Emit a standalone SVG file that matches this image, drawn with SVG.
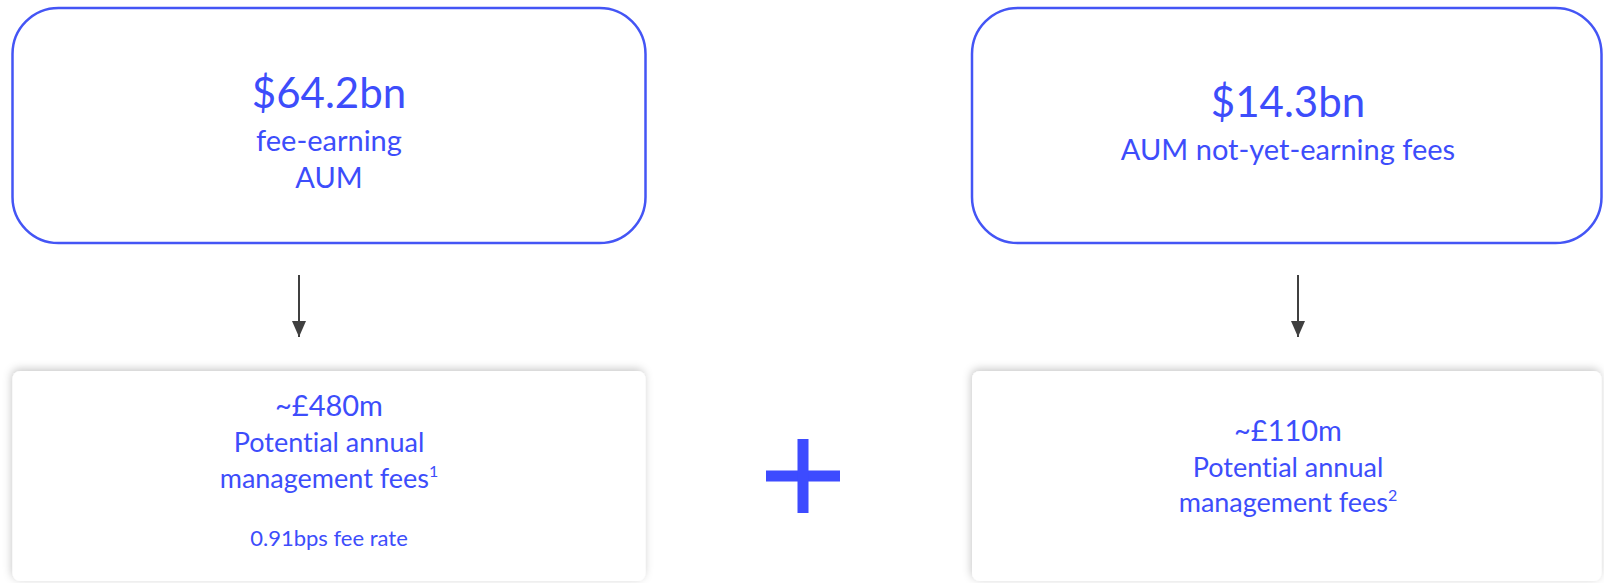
<svg xmlns="http://www.w3.org/2000/svg" width="1604" height="583" viewBox="0 0 1604 583">
<style>
text{font-family:Lato,"Open Sans","Noto Sans",sans-serif;fill:#3D4DFB;text-anchor:middle;font-variant-ligatures:none}
.big{font-size:42px}
.mid{font-size:29px}
.val{font-size:29px}
.sub{font-size:27px}
.sm{font-size:22px}
.sup{font-size:16px}
.top{fill:#fff;stroke:#4455F5;stroke-width:2.5}
.bot{fill:#fff}
.conn{stroke:#404040;stroke-width:2;fill:none}
</style>
<defs>
<filter id="sh" x="-5%" y="-10%" width="110%" height="120%">
<feDropShadow dx="-1" dy="-2" stdDeviation="4" flood-color="#000" flood-opacity="0.22"/>
</filter>
<marker id="ah" viewBox="0 0 16 14" refX="16" refY="7" markerWidth="16" markerHeight="14" markerUnits="userSpaceOnUse" orient="auto">
<path d="M0,0 L16,7 L0,14 Z" fill="#404040"/>
</marker>
</defs>
<g id="node-fee-earning">
<rect class="top" x="12.5" y="8" width="633" height="235" rx="46"/>
<text class="big" x="329" y="108">$64.2bn</text>
<text class="mid" x="329" y="151">fee-earning</text>
<text class="mid" x="329" y="188">AUM</text>
</g>
<g id="node-not-yet">
<rect class="top" x="972" y="8" width="629.5" height="235" rx="46"/>
<text class="big" x="1288" y="117">$14.3bn</text>
<text class="mid" x="1288" y="160">AUM not-yet-earning fees</text>
</g>
<g id="node-fees-480" filter="url(#sh)">
<rect class="bot" x="12.5" y="371" width="633" height="210" rx="8"/>
</g>
<g id="node-fees-480-text">
<text class="val" x="329" y="416">~£480m</text>
<text class="sub" x="329" y="452">Potential annual</text>
<text class="sub" x="329" y="488">management fees<tspan class="sup" dy="-11">1</tspan></text>
<text class="sm" x="329" y="546">0.91bps fee rate</text>
</g>
<g id="node-fees-110" filter="url(#sh)">
<rect class="bot" x="972" y="371" width="629.5" height="210" rx="8"/>
</g>
<g id="node-fees-110-text">
<text class="val" x="1288" y="441">~£110m</text>
<text class="sub" x="1288" y="477">Potential annual</text>
<text class="sub" x="1288" y="512">management fees<tspan class="sup" dy="-11">2</tspan></text>
</g>
<g id="plus">
<rect x="766" y="470.5" width="74" height="11" fill="#3D4BFF"/>
<rect x="797.5" y="439" width="11" height="74" fill="#3D4BFF"/>
</g>
<g id="connectors">
<line class="conn" x1="299" y1="275" x2="299" y2="337" marker-end="url(#ah)"/>
<line class="conn" x1="1298" y1="275" x2="1298" y2="337" marker-end="url(#ah)"/>
</g>
</svg>
